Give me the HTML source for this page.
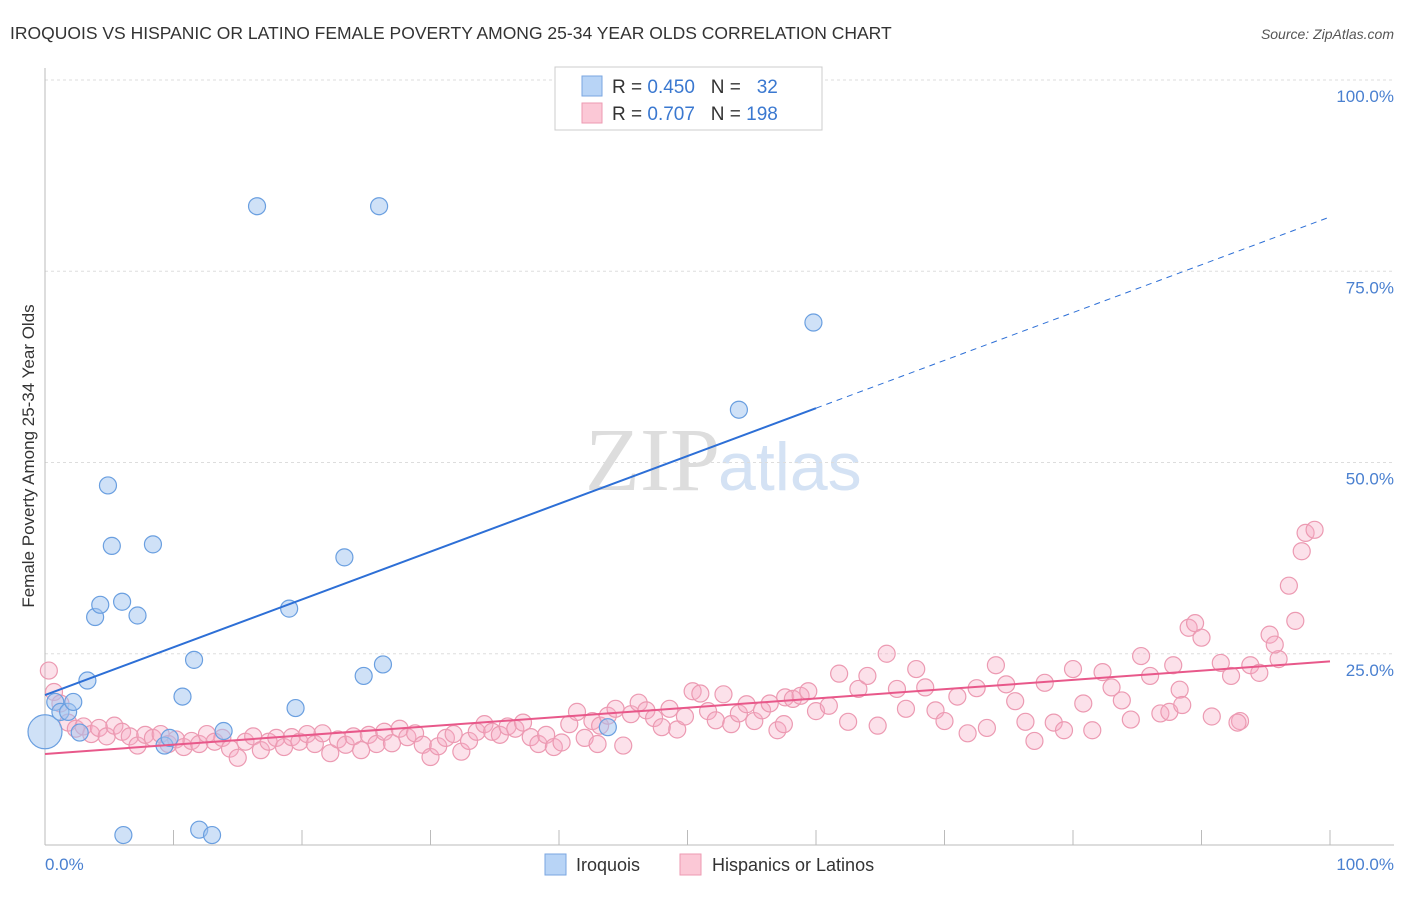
<!DOCTYPE html>
<html><head><meta charset="utf-8"><style>
body{margin:0;background:#fff;font-family:"Liberation Sans",sans-serif}
</style></head><body>
<svg id="c" width="1406" height="892" xmlns="http://www.w3.org/2000/svg" font-family="Liberation Sans, sans-serif">
<text x="10" y="39" font-size="17.5" fill="#333">IROQUOIS VS HISPANIC OR LATINO FEMALE POVERTY AMONG 25-34 YEAR OLDS CORRELATION CHART</text>
<text x="1394" y="39" font-size="14" fill="#555" text-anchor="end" font-style="italic">Source: ZipAtlas.com</text>
<text x="720" y="490" font-size="90" fill="#ddd" text-anchor="end" font-family="Liberation Serif, serif">ZIP</text>
<text x="718" y="490" font-size="68" fill="#d4e2f4">atlas</text>
<g id="grid"></g>
<g id="axes"></g>
<g id="pts"></g>
<g id="lines"></g>
<text transform="translate(34,456) rotate(-90)" font-size="17" fill="#333" text-anchor="middle">Female Poverty Among 25-34 Year Olds</text>
<text x="45" y="870" font-size="17" fill="#4a80d0">0.0%</text>
<text x="1394" y="870" font-size="17" fill="#4a80d0" text-anchor="end">100.0%</text>
<g>
<rect x="555" y="67" width="267" height="63" fill="#fff" stroke="#ccc"/>
<rect x="582" y="76" width="20" height="20" fill="#b8d4f6" stroke="#7aa6e0"/>
<rect x="582" y="103" width="20" height="20" fill="#fbc8d6" stroke="#ec9ab2"/>
<text x="612" y="93" font-size="19" fill="#333" xml:space="preserve">R = <tspan fill="#3a78d0">0.450</tspan>   N =   <tspan fill="#3a78d0">32</tspan></text>
<text x="612" y="120" font-size="19" fill="#333" xml:space="preserve">R = <tspan fill="#3a78d0">0.707</tspan>   N = <tspan fill="#3a78d0">198</tspan></text>
</g>
<g>
<rect x="545" y="854" width="21" height="21" fill="#b8d4f6" stroke="#7aa6e0"/>
<text x="576" y="871" font-size="18" fill="#333">Iroquois</text>
<rect x="680" y="854" width="21" height="21" fill="#fbc8d6" stroke="#ec9ab2"/>
<text x="712" y="871" font-size="18" fill="#333">Hispanics or Latinos</text>
</g>
</svg>
<script>
const yTicks=[25,50,75,100];
const yTickLabels=["25.0%","50.0%","75.0%","100.0%"];
const xTicks=[0,10,20,30,40,50,60,70,80,90,100];
const iroX=[0,0.8,1.2,1.8,2.2,2.7,3.3,3.9,4.3,4.9,5.2,6.0,6.1,7.2,8.4,9.3,9.7,10.7,11.6,12.0,13.0,13.9,16.5,19.0,19.5,23.3,24.8,26.0,26.3,43.8,54.0,59.8];
const iroY=[14.8,18.7,17.4,17.4,18.7,14.7,21.5,29.8,31.4,47.0,39.1,31.8,1.3,30.0,39.3,13.0,14.0,19.4,24.2,2.0,1.3,14.9,83.5,30.9,17.9,37.6,22.1,83.5,23.6,15.4,56.9,68.3];
const hisX=[0.3,0.7,1.2,1.8,2.4,3,3.6,4.2,4.8,5.4,
6,6.6,7.2,7.8,8.4,9,9.6,10.2,10.8,11.4,
12,12.6,13.2,13.8,14.4,15,15.6,16.2,16.8,17.4,
18,18.6,19.2,19.8,20.4,21,21.6,22.2,22.8,23.4,
24,24.6,25.2,25.8,26.4,27,27.6,28.2,28.8,29.4,
30,30.6,31.2,31.8,32.4,33,33.6,34.2,34.8,35.4,
36,36.6,37.2,37.8,38.4,39,39.6,40.2,40.8,41.4,
42,42.6,43.2,43.8,44.4,45,45.6,46.2,46.8,47.4,
48,48.6,49.2,49.8,50.4,51,51.6,52.2,52.8,53.4,
54,54.6,55.2,55.8,56.4,57,57.6,58.2,58.8,59.4,
60,61,61.8,62.5,63.3,64,64.8,65.5,66.3,67,
67.8,68.5,69.3,70,71,71.8,72.5,73.3,74,74.8,
75.5,76.3,77,77.8,78.5,79.3,80,80.8,81.5,82.3,
83,83.8,84.5,85.3,86,86.8,87.5,88.3,89,89.5,
90,90.8,91.5,92.3,93,93.8,94.5,95.3,96,96.8,
97.3,97.8,98.1,98.8,87.8,88.5,92.8,95.7,57.5,43];
const hisY=[22.8,20,18.5,16,15.2,15.5,14.5,15.3,14.2,15.6,
14.8,14.2,13,14.4,14,14.5,13.2,13.8,12.8,13.6,
13.2,14.5,13.5,14,12.6,11.4,13.5,14.2,12.4,13.5,
14,12.8,14.1,13.5,14.5,13.2,14.6,12,13.8,13.1,
14.2,12.4,14.4,13.2,14.8,13.3,15.2,14.1,14.6,13.1,
11.5,12.9,14,14.5,12.2,13.6,14.8,15.8,14.8,14.4,
15.5,15.2,16,14.1,13.2,14.4,12.8,13.4,15.8,17.4,
14,16.2,15.6,16.9,17.8,13,17.1,18.6,17.6,16.6,
15.4,17.8,15.1,16.8,20.1,19.8,17.5,16.3,19.7,15.8,
17.2,18.4,16.2,17.6,18.5,15,19.3,19.1,19.5,20.1,
17.5,18.2,22.4,16.1,20.4,22.1,15.6,25,20.4,17.8,
23,20.6,17.6,16.2,19.4,14.6,20.5,15.3,23.5,21,
18.8,16.1,13.6,21.2,16,15,23,18.5,15,22.6,
20.6,18.9,16.4,24.7,22.1,17.2,17.4,20.3,28.4,29,
27.1,16.8,23.8,22.1,16.2,23.5,22.5,27.5,24.3,33.9,
29.3,38.4,40.8,41.2,23.5,18.3,16,26.2,15.8,13.2];
const iroTrend=[19.6,82.1];
const hisTrend=[11.9,24.0];
const iroSolidEnd=60;
const NS="http://www.w3.org/2000/svg";
const X0=45,X1=1330,Y0=845,Y100=80;
const sx=v=>X0+(X1-X0)*v/100, sy=v=>Y0-(Y0-Y100)*v/100;
function mk(t,a,p){const e=document.createElementNS(NS,t);for(const k in a)e.setAttribute(k,a[k]);document.getElementById(p).appendChild(e);return e;}
yTicks.forEach((t,i)=>{
 const l=mk('line',{x1:X0,x2:1394,y1:sy(t),y2:sy(t),stroke:'#ddd','stroke-dasharray':'3,3'},'grid');
 
 
 const tx=mk('text',{x:1394,y:sy(t)+22,'font-size':17,fill:'#4a80d0','text-anchor':'end'},'grid');
 tx.textContent=yTickLabels[i];
 
 
});
const ax=mk('line',{x1:X0,x2:X0,y1:68,y2:Y0,stroke:'#bbb'},'axes');


const bx=mk('line',{x1:X0,x2:1394,y1:Y0,y2:Y0,stroke:'#bbb'},'axes');


xTicks.forEach(t=>{const l=mk('line',{x1:sx(t),x2:sx(t),y1:Y0,y2:Y0-15,stroke:'#bbb'},'axes');
 
 });
hisX.forEach((x,i)=>{const c=mk('circle',{cx:sx(x),cy:sy(hisY[i]),r:8.5,fill:'rgba(246,170,196,0.35)',stroke:'#ec9ab2','stroke-width':1.2},'pts');
 
 });
iroX.forEach((x,i)=>{const c=mk('circle',{cx:sx(x),cy:sy(iroY[i]),r:i==0?17:8.5,fill:'rgba(160,196,240,0.5)',stroke:'#6a9fe0','stroke-width':1.2},'pts');
 
 });
const iAt=x=>iroTrend[0]+(iroTrend[1]-iroTrend[0])*x/100;
let l=mk('line',{x1:sx(0),y1:sy(iAt(0)),x2:sx(iroSolidEnd),y2:sy(iAt(iroSolidEnd)),stroke:'#2d6fd6','stroke-width':2},'lines');


l=mk('line',{x1:sx(iroSolidEnd),y1:sy(iAt(iroSolidEnd)),x2:sx(100),y2:sy(iAt(100)),stroke:'#2d6fd6','stroke-width':1,'stroke-dasharray':'6,5'},'lines');


l=mk('line',{x1:sx(0),y1:sy(hisTrend[0]),x2:sx(100),y2:sy(hisTrend[1]),stroke:'#e8588a','stroke-width':2},'lines');


</script>
</body></html>
